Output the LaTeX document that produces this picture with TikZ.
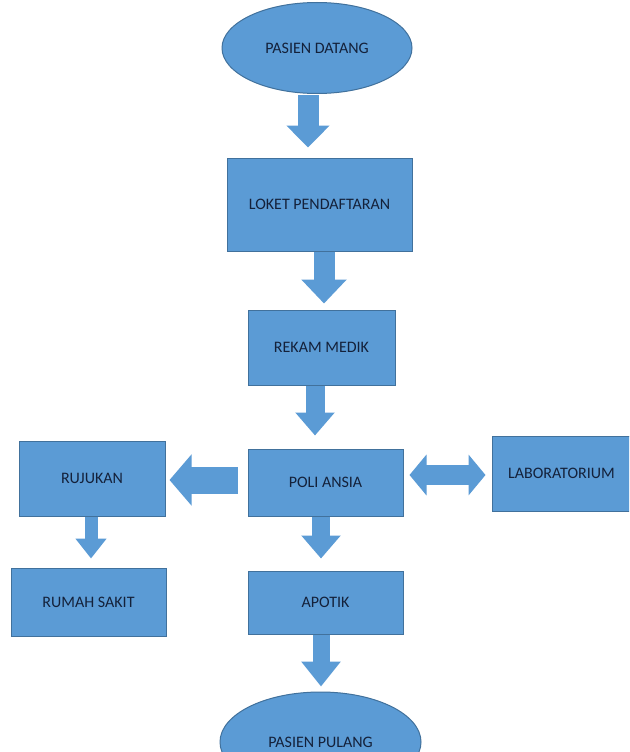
\documentclass[tikz,border=0pt]{standalone}
\usepackage{fontspec}
\setmainfont{Carlito}
\usepackage{tikz}
\usetikzlibrary{shapes.geometric, positioning, arrows.meta}
\definecolor{boxfill}{HTML}{5B9BD5}
\definecolor{boxline}{HTML}{41719C}
\definecolor{boxtext}{HTML}{14213A}
\tikzset {
    every node/.style={font=\fontsize{16}{18}\selectfont, text=boxtext},
    box/.style={rectangle, draw=boxline, fill=boxfill, line width=1pt, inner sep=0pt},
    oval/.style={ellipse, draw=boxline, fill=boxfill, line width=1pt, inner sep=0pt},
    flow/.style n args={3}{draw=boxfill, line width=#1, -{Triangle[width=#2, length=#3]}},
    both/.style n args={3}{draw=boxfill, line width=#1, {Triangle[width=#2, length=#3]}-{Triangle[width=#2, length=#3]}}
}

\begin{document}
\begin{tikzpicture}[x=1pt, y=-1pt]
                    \useasboundingbox (0,0) rectangle (629,752);
                    \fill[white] (0,0) rectangle (629,752);
                    \clip (0,0) rectangle (629,752);

                    \node[oval, minimum width=190pt, minimum height=91pt] (datang) at (317,48) {PASIEN DATANG};
                    \node[box, minimum width=185pt, minimum height=93pt, below=63.5pt of datang, xshift=2.5pt] (loket) {LOKET PENDAFTARAN};
                    \node[box, minimum width=147pt, minimum height=75pt, below=58pt of loket, xshift=2pt] (rekam) {REKAM MEDIK};
                    \node[box, minimum width=155pt, minimum height=67pt, below=63pt of rekam, xshift=4pt] (poli) {POLI ANSIA};
                    \node[box, minimum width=146pt, minimum height=75pt, left=82pt of poli, yshift=4pt] (rujukan) {RUJUKAN};
                    \node[box, minimum width=146pt, minimum height=75pt, right=88pt of poli, yshift=9pt] (lab) {\hspace*{-7pt}LABORATORIUM};
                    \node[box, minimum width=155pt, minimum height=68pt, below=51pt of rujukan, xshift=-3.5pt] (rumah) {RUMAH SAKIT};
                    \node[box, minimum width=155pt, minimum height=63pt, below=54pt of poli] (apotik) {APOTIK};
                    \node[oval, minimum width=201pt, minimum height=100pt, below=57pt of apotik, xshift=-5pt] (pulang) {PASIEN PULANG};

                    \draw[flow={21pt}{42pt}{22pt}] ([xshift=-9pt, yshift=-1pt]datang.south) -- ([xshift=-11.5pt, yshift=10pt]loket.north);
                    \draw[flow={21pt}{44pt}{24pt}] ([xshift=4.5pt]loket.south) -- ([xshift=2.5pt, yshift=6pt]rekam.north);
                    \draw[flow={19pt}{38pt}{23pt}] ([xshift=-6.5pt]rekam.south) -- ([xshift=-10.5pt, yshift=13pt]poli.north);
                    \draw[flow={27pt}{50pt}{22pt}] ([xshift=-10pt, yshift=2.5pt]poli.west) -- ([xshift=4pt, yshift=-1.5pt]rujukan.east);
                    \draw[both={20pt}{40pt}{17pt}] ([xshift=6pt, yshift=7.5pt]poli.east) -- ([xshift=-6pt, yshift=-1.5pt]lab.west);
                    \draw[flow={18pt}{38pt}{23pt}] ([xshift=-4.5pt]poli.south) -- ([xshift=-4.5pt, yshift=12pt]apotik.north);
                    \draw[flow={13pt}{30pt}{20pt}] ([xshift=-1pt]rujukan.south) -- ([xshift=2.5pt, yshift=9pt]rumah.north);
                    \draw[flow={17pt}{38pt}{25pt}] ([xshift=-4.5pt]apotik.south) -- ([xshift=0.5pt, yshift=5pt]pulang.north);
\end{tikzpicture}
\end{document}
